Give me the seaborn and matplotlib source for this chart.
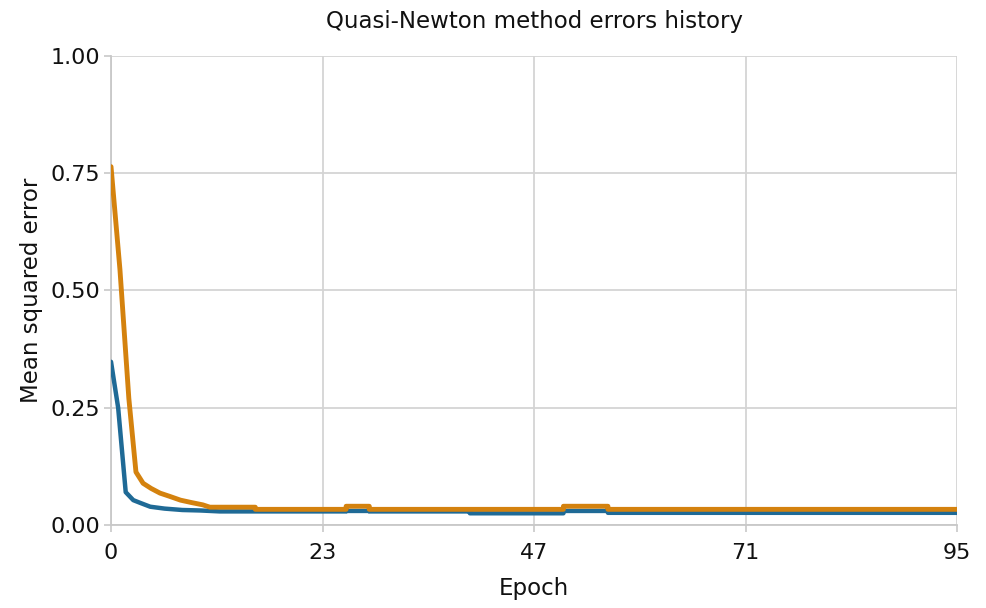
import matplotlib
matplotlib.use("Agg")
import matplotlib.pyplot as plt
import seaborn as sns
import pandas as pd
import numpy as np

# Data (epoch positions, error values)
train_epochs = [0, 1, 2, 2.8, 3.6, 4.5, 5.5, 6.6, 7.8, 9, 10.3, 11.1, 16.2, 16.2,
                26.4, 26.4, 29, 29, 50.8, 50.8, 55.8, 55.8, 95]
train_error = [0.764, 0.545, 0.27, 0.113, 0.089, 0.078, 0.068, 0.061, 0.053, 0.048,
               0.043, 0.038, 0.038, 0.0334, 0.0334, 0.040, 0.040, 0.0334, 0.0334,
               0.040, 0.040, 0.0334, 0.0334]

sel_epochs = [0, 0.8, 1.65, 2.5, 3.3, 4.4, 6, 8, 10, 12.2, 26.4, 26.4, 29, 29,
              40.3, 40.3, 50.8, 50.8, 55.8, 55.8, 95]
sel_error = [0.348, 0.25, 0.07, 0.053, 0.047, 0.039, 0.035, 0.032, 0.031, 0.029,
             0.029, 0.030, 0.030, 0.029, 0.029, 0.025, 0.025, 0.030, 0.030, 0.026, 0.026]

x_ticks = [0, 23.75, 47.5, 71.25, 95]
x_tick_labels = ["0", "23", "47", "71", "95"]
y_ticks = [0.0, 0.25, 0.5, 0.75, 1.0]
y_tick_labels = ["0.00", "0.25", "0.50", "0.75", "1.00"]

sns.set_theme(style="white")
plt.rcParams['font.family'] = ['DejaVu Sans']

fig = plt.figure(figsize=(9.86, 6.08), dpi=100)
ax = fig.add_axes([0.1126, 0.1365, 0.858, 0.7715])

blue_df = pd.DataFrame({"Epoch": sel_epochs, "Error": sel_error})
orange_df = pd.DataFrame({"Epoch": train_epochs, "Error": train_error})

sns.lineplot(data=blue_df, x="Epoch", y="Error", sort=False, estimator=None,
             color="#1f6a96", linewidth=3.2, ax=ax, zorder=3)
sns.lineplot(data=orange_df, x="Epoch", y="Error", sort=False, estimator=None,
             color="#d4820e", linewidth=3.5, ax=ax, zorder=4)

ax.set_xlim(0, 95)
ax.set_ylim(0, 1.0)
ax.set_xticks(x_ticks)
ax.set_xticklabels(x_tick_labels)
ax.set_yticks(y_ticks)
ax.set_yticklabels(y_tick_labels)

ax.grid(True, color="#d4d4d4", linewidth=1.3)
ax.set_axisbelow(True)
for s in ["top", "right"]:
    ax.spines[s].set_visible(False)
for s in ["left", "bottom"]:
    ax.spines[s].set_color("#c8c8c8")
    ax.spines[s].set_linewidth(1.3)

ax.tick_params(axis="x", which="major", pad=8)
ax.tick_params(axis="y", which="major", pad=3)
ax.tick_params(axis="both", which="major", direction="out", length=5, width=1.2,
               color="#c8c8c8", labelsize=16, labelcolor="#111111",
               left=True, bottom=True)
ax.set_xlabel("Epoch", fontsize=16.5, color="#111111", labelpad=10)
ax.set_ylabel("Mean squared error", fontsize=16.5, color="#111111", labelpad=5)
ax.set_title("Quasi-Newton method errors history", fontsize=16.5, color="#111111", pad=20)

fig.savefig("out.png", dpi=100)
